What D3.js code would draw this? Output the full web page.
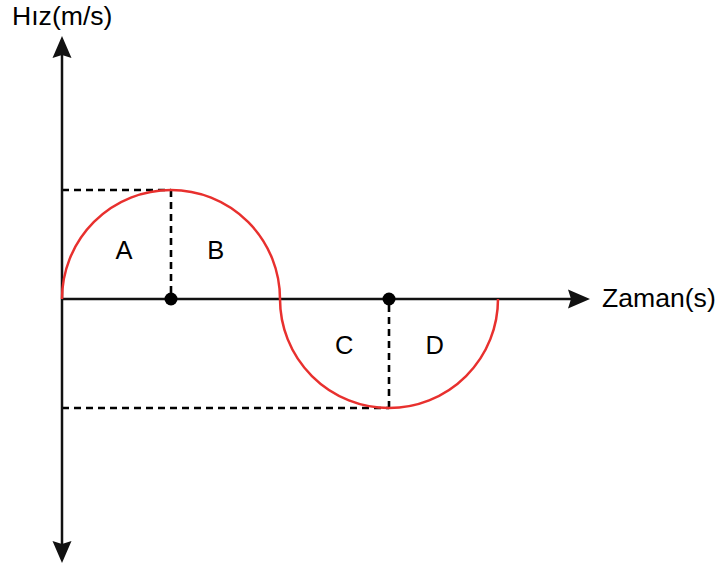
<!DOCTYPE html>
<html><head><meta charset="utf-8">
<script src="https://cdn.jsdelivr.net/npm/d3@7"></script>
<style>body{margin:0;background:#fff}svg{display:block}text{font-family:"Liberation Sans",Arial,sans-serif;fill:#000}</style>
</head><body><svg id="c" width="719" height="570"></svg>
<script>
const axisLabels = {y: "Hız(m/s)", x: "Zaman(s)"};
const halfStarts = [0, 2];
const halfEnds = [2, 4];
const halfPeaks = [1, -1];
const peakTimes = [1, 3];
const regionNames = ["A", "B", "C", "D"];
const regionTimes = [0.57, 1.41, 2.59, 3.42];
const regionValues = [0.45, 0.45, -0.42, -0.42];

const svg = d3.select("#c");
const x = d3.scaleLinear().domain([0, 4]).range([62, 498]);
const y = d3.scaleLinear().domain([-1, 1]).range([408, 190]);

const ink = "#111";
// dashed guides
const g = svg.append("g").attr("stroke", "#000").attr("stroke-width", 2.6).attr("stroke-dasharray", "7,5").attr("fill", "none");
peakTimes.forEach((t, i) => {
  g.append("line").attr("x1", x(0)).attr("x2", x(t)).attr("y1", y(halfPeaks[i])).attr("y2", y(halfPeaks[i]));
  g.append("line").attr("x1", x(t)).attr("x2", x(t)).attr("y1", y(halfPeaks[i])).attr("y2", y(0));
});

// axes
const axTop = 36, axBottom = 563, axRight = 590;
svg.append("line").attr("x1", x(0)).attr("x2", x(0)).attr("y1", axTop + 10).attr("y2", axBottom - 10).attr("stroke", ink).attr("stroke-width", 2.5);
svg.append("line").attr("x1", x(0)).attr("x2", axRight - 10).attr("y1", y(0)).attr("y2", y(0)).attr("stroke", ink).attr("stroke-width", 2.5);
const hw = 9.5, hl = 22;
svg.append("path").attr("fill", ink).attr("d", `M${x(0)},${axTop} L${x(0)+hw},${axTop+hl} L${x(0)},${axTop+hl-3} L${x(0)-hw},${axTop+hl} Z`);
svg.append("path").attr("fill", ink).attr("d", `M${x(0)},${axBottom} L${x(0)+hw},${axBottom-hl} L${x(0)},${axBottom-hl+3} L${x(0)-hw},${axBottom-hl} Z`);
svg.append("path").attr("fill", ink).attr("d", `M${axRight},${y(0)} L${axRight-hl},${y(0)-hw} L${axRight-hl+3},${y(0)} L${axRight-hl},${y(0)+hw} Z`);

// red half-waves
halfStarts.forEach((s, i) => {
  const rx = (x(halfEnds[i]) - x(s)) / 2;
  const ry = Math.abs(y(halfPeaks[i]) - y(0));
  const sweep = halfPeaks[i] > 0 ? 1 : 0;
  svg.append("path").attr("fill", "none").attr("stroke", "#e8302e").attr("stroke-width", 2.5)
    .attr("d", `M${x(s)},${y(0)} A${rx},${ry} 0 0 ${sweep} ${x(halfEnds[i])},${y(0)}`);
});

// dots
svg.selectAll("circle.dot").data(peakTimes).enter().append("circle")
  .attr("cx", d => x(d)).attr("cy", y(0)).attr("r", 6.5).attr("fill", "#000");

// region labels
svg.selectAll("text.reg").data(regionNames).enter().append("text")
  .attr("x", (d, i) => x(regionTimes[i])).attr("y", (d, i) => y(regionValues[i]))
  .attr("text-anchor", "middle").attr("dominant-baseline", "central").attr("font-size", 25.5).text(d => d);

svg.append("text").attr("x", 12).attr("y", 25).attr("font-size", 26.6).text(axisLabels.y);
svg.append("text").attr("x", 602).attr("y", 307).attr("font-size", 26.6).text(axisLabels.x);
</script></body></html>
